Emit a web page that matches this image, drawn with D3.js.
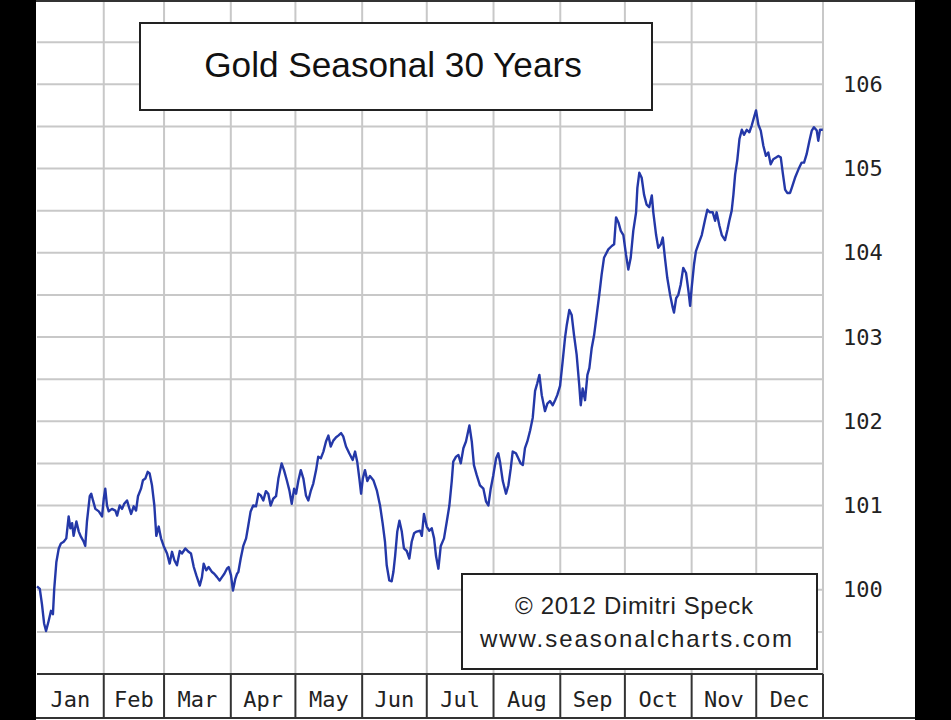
<!DOCTYPE html>
<html>
<head>
<meta charset="utf-8">
<style type="text/css">
  body { margin: 0; background: #000; }
  .grid line { stroke: #c8c8c8; stroke-width: 2px; }
  .months text { font-family: "DejaVu Sans Mono", monospace; font-size: 22px; fill: #222; }
  .yaxis text { font-family: "DejaVu Sans Mono", monospace; font-size: 22px; fill: #222; }
</style>
<script src="https://cdn.jsdelivr.net/npm/d3@7/dist/d3.min.js"></script>
</head>
<body>
<svg id="chart" width="951" height="720"></svg>
<script>
  // DATA
  var months = ["Jan", "Feb", "Mar", "Apr", "May", "Jun", "Jul", "Aug", "Sep", "Oct", "Nov", "Dec"];
  var monthDays = [31, 28, 31, 30, 31, 30, 31, 31, 30, 31, 30, 31];
  var yTicks = [100, 101, 102, 103, 104, 105, 106];

  // day of year
  var days = [
    0.0, 1.3, 2.3, 3.3, 4.2, 5.4, 6.5, 7.4, 8.0, 9.0, 10.1, 11.1, 12.4, 13.6, 14.7, 15.5, 16.3, 17.0, 18.3, 19.4,
    20.4, 21.7, 22.4, 23.2, 24.5, 25.2, 26.0, 27.1, 28.7, 30.2, 31.0, 31.7, 32.5, 33.3, 34.8, 36.4, 37.2, 38.4, 39.5, 40.5,
    41.8, 42.6, 43.7, 44.9, 46.0, 46.9, 48.3, 49.2, 50.3, 51.4, 52.3, 53.4, 54.5, 55.4, 56.5, 57.6, 58.8, 60.4, 61.6, 62.7,
    63.8, 65.0, 66.3, 67.3, 68.9, 70.4, 71.5, 72.8, 74.0, 75.6, 76.6, 77.4, 78.6, 79.7, 81.3, 82.3, 83.6, 84.8, 85.9, 87.0,
    88.2, 89.0, 90.1, 91.0, 92.1, 92.9, 93.5, 94.6, 95.8, 97.1, 98.1, 99.2, 100.4, 101.7, 102.8, 103.9, 105.1, 106.3, 107.4, 108.5,
    109.7, 111.0, 112.1, 113.6, 114.7, 116.0, 117.2, 118.3, 119.4, 120.3, 121.4, 122.5, 123.7, 124.9, 126.0, 127.1, 128.3, 129.6, 130.6, 131.8,
    133.0, 134.2, 135.3, 136.4, 137.6, 138.9, 139.9, 141.2, 142.2, 143.5, 145.0, 146.6, 147.7, 148.7, 149.7, 150.5, 151.3, 152.3, 153.4, 154.6,
    156.2, 157.8, 159.3, 160.5, 161.6, 162.4, 163.6, 164.7, 165.5, 166.3, 167.3, 168.3, 169.4, 170.4, 171.7, 172.9, 174.0, 175.1, 176.3, 177.9,
    178.7, 179.7, 181.0, 182.2, 183.3, 184.4, 185.3, 186.4, 187.5, 189.0, 190.3, 191.5, 192.6, 193.3, 194.6, 195.7, 196.8, 198.0, 199.2, 200.8,
    201.9, 202.9, 204.2, 205.7, 207.3, 208.5, 209.6, 210.7, 211.9, 213.2, 214.2, 215.0, 216.3, 217.8, 218.9, 220.0, 220.9, 222.4, 223.5, 224.6,
    225.6, 226.6, 227.7, 229.0, 230.2, 231.3, 232.3, 233.3, 234.4, 235.9, 237.0, 238.2, 239.5, 240.6, 241.6, 242.9, 244.1, 245.2, 246.0, 247.2,
    248.3, 249.4, 250.6, 251.8, 252.5, 253.4, 254.5, 255.6, 256.5, 257.6, 258.7, 259.9, 261.1, 262.2, 263.3, 265.3, 266.9, 268.0, 268.9, 270.0,
    271.1, 272.3, 273.5, 274.6, 275.7, 276.9, 278.2, 278.8, 279.7, 280.8, 281.9, 283.1, 284.3, 285.5, 286.2, 287.5, 288.5, 289.7, 290.6, 291.6,
    292.7, 294.0, 295.2, 295.8, 296.8, 297.8, 298.9, 300.1, 301.4, 302.5, 303.3, 304.0, 305.1, 306.0, 307.1, 308.7, 310.2, 311.3, 312.5, 313.8,
    314.9, 315.6, 316.9, 318.0, 319.5, 320.6, 321.5, 322.6, 323.4, 324.2, 325.2, 326.2, 327.3, 328.3, 329.6, 330.8, 331.9, 333.0, 333.9, 335.0,
    336.1, 337.3, 338.5, 339.6, 340.7, 341.9, 343.2, 344.3, 345.4, 346.3, 347.4, 348.4, 349.7, 350.5, 352.0, 353.6, 355.1, 356.2, 357.4, 358.7,
    359.8, 360.8, 362.1, 362.8, 363.6, 364.9
  ];

  // seasonal index value
  var values = [
    100.04, 100.01, 99.83, 99.60, 99.51, 99.63, 99.75, 99.71, 100.01, 100.33, 100.49, 100.55, 100.57, 100.61, 100.87, 100.73, 100.79, 100.64, 100.81, 100.69,
    100.63, 100.57, 100.52, 100.81, 101.11, 101.14, 101.06, 100.96, 100.93, 100.87, 101.08, 101.20, 101.00, 100.93, 100.96, 100.94, 100.88, 101.00, 100.96, 101.02,
    101.06, 100.99, 100.90, 100.99, 100.94, 101.11, 101.20, 101.30, 101.32, 101.40, 101.38, 101.24, 101.00, 100.64, 100.75, 100.61, 100.52, 100.43, 100.31, 100.45,
    100.35, 100.29, 100.46, 100.43, 100.49, 100.45, 100.43, 100.27, 100.17, 100.05, 100.15, 100.31, 100.23, 100.27, 100.21, 100.19, 100.15, 100.11, 100.15, 100.19,
    100.25, 100.27, 100.17, 99.99, 100.13, 100.19, 100.21, 100.37, 100.52, 100.61, 100.76, 100.93, 101.00, 100.99, 101.14, 101.12, 101.06, 101.17, 101.14, 101.00,
    101.08, 101.11, 101.32, 101.50, 101.42, 101.30, 101.18, 101.02, 101.20, 101.14, 101.30, 101.42, 101.32, 101.12, 101.06, 101.17, 101.26, 101.42, 101.58, 101.56,
    101.64, 101.76, 101.83, 101.70, 101.77, 101.81, 101.83, 101.86, 101.82, 101.70, 101.62, 101.54, 101.64, 101.52, 101.32, 101.14, 101.32, 101.42, 101.29, 101.35,
    101.30, 101.18, 101.00, 100.79, 100.57, 100.29, 100.11, 100.10, 100.21, 100.40, 100.69, 100.82, 100.69, 100.49, 100.46, 100.37, 100.57, 100.67, 100.69, 100.70,
    100.64, 100.90, 100.75, 100.70, 100.73, 100.61, 100.40, 100.25, 100.52, 100.61, 100.81, 101.00, 101.29, 101.52, 101.58, 101.60, 101.50, 101.68, 101.76, 101.95,
    101.76, 101.48, 101.36, 101.24, 101.20, 101.05, 101.00, 101.20, 101.36, 101.56, 101.62, 101.52, 101.29, 101.14, 101.24, 101.44, 101.64, 101.62, 101.56, 101.50,
    101.48, 101.68, 101.76, 101.89, 102.04, 102.36, 102.45, 102.55, 102.31, 102.12, 102.21, 102.24, 102.19, 102.25, 102.31, 102.42, 102.71, 102.99, 103.14, 103.32,
    103.26, 103.02, 102.79, 102.43, 102.19, 102.39, 102.25, 102.55, 102.63, 102.87, 103.02, 103.26, 103.50, 103.74, 103.94, 104.04, 104.08, 104.10, 104.42, 104.36,
    104.26, 104.21, 103.98, 103.80, 103.94, 104.26, 104.48, 104.77, 104.95, 104.89, 104.69, 104.57, 104.54, 104.68, 104.48, 104.21, 104.06, 104.10, 104.18, 103.94,
    103.70, 103.50, 103.35, 103.29, 103.46, 103.50, 103.62, 103.82, 103.76, 103.55, 103.37, 103.58, 103.86, 104.02, 104.10, 104.21, 104.39, 104.51, 104.48, 104.48,
    104.38, 104.48, 104.32, 104.21, 104.15, 104.27, 104.38, 104.50, 104.69, 104.93, 105.10, 105.35, 105.46, 105.40, 105.46, 105.43, 105.51, 105.61, 105.69, 105.52,
    105.45, 105.27, 105.15, 105.19, 105.05, 105.11, 105.13, 105.15, 105.13, 104.95, 104.75, 104.71, 104.71, 104.77, 104.89, 104.99, 105.07, 105.07, 105.17, 105.33,
    105.45, 105.49, 105.45, 105.33, 105.46, 105.46
  ];

  var title = "Gold Seasonal 30 Years";
  var credit1 = "\u00A9 2012  Dimitri Speck";
  var credit2 = "www.seasonalcharts.com";

  // LAYOUT
  var svg = d3.select("#chart");
  var plotLeft = 37, plotRight = 823, plotTop = 0, plotBottom = 674, barBottom = 718;

  var x = d3.scaleLinear().domain([0, 365]).range([plotLeft, plotRight]);
  var y = d3.scaleLinear().domain([99, 107]).range([plotBottom, plotTop]);

  // month boundaries as cumulative days
  var bounds = [0];
  monthDays.forEach(function(d, i) { bounds.push(bounds[i] + d); });

  // white page between the black side bars
  svg.append("rect")
    .attr("x", 36).attr("y", 0)
    .attr("width", 879).attr("height", 720)
    .attr("fill", "#fff");

  // grid
  var grid = svg.append("g").attr("class", "grid");
  var halfSteps = d3.range(99.5, 107, 0.5);
  grid.selectAll(".h")
    .data(halfSteps)
    .enter().append("line")
    .attr("x1", plotLeft).attr("x2", plotRight)
    .attr("y1", function(d) { return y(d); })
    .attr("y2", function(d) { return y(d); });

  grid.selectAll(".v")
    .data(bounds.slice(1))
    .enter().append("line")
    .attr("x1", function(d) { return x(d); })
    .attr("x2", function(d) { return x(d); })
    .attr("y1", plotTop).attr("y2", plotBottom);

  // top border
  svg.append("line")
    .attr("x1", 36).attr("x2", 915)
    .attr("y1", 1).attr("y2", 1)
    .attr("stroke", "#333").attr("stroke-width", 2);

  // the seasonal line
  var points = days.map(function(d, i) { return [d, values[i]]; });
  var line = d3.line()
    .x(function(d) { return x(d[0]); })
    .y(function(d) { return y(d[1]); });

  svg.append("path")
    .datum(points)
    .attr("d", line)
    .attr("fill", "none")
    .attr("stroke", "#2438a8")
    .attr("stroke-width", 2.4)
    .attr("stroke-linejoin", "round");

  // right hand value axis
  var yAxis = d3.axisRight(y)
    .tickValues(yTicks)
    .tickSize(0)
    .tickPadding(0)
    .tickFormat(d3.format("d"));

  var ya = svg.append("g")
    .attr("class", "yaxis")
    .attr("transform", "translate(843,0)")
    .call(yAxis);
  ya.select(".domain").remove();
  ya.selectAll("text").attr("font-family", null).attr("font-size", null);

  // month bar
  var mb = svg.append("g").attr("class", "months");
  mb.append("line")
    .attr("x1", plotLeft).attr("x2", plotRight)
    .attr("y1", plotBottom).attr("y2", plotBottom)
    .attr("stroke", "#333").attr("stroke-width", 2);
  mb.append("line")
    .attr("x1", 36).attr("x2", 915)
    .attr("y1", barBottom).attr("y2", barBottom)
    .attr("stroke", "#333").attr("stroke-width", 2);
  mb.selectAll(".div")
    .data(bounds.slice(1))
    .enter().append("line")
    .attr("x1", function(d) { return x(d); })
    .attr("x2", function(d) { return x(d); })
    .attr("y1", plotBottom).attr("y2", barBottom)
    .attr("stroke", "#333").attr("stroke-width", 2);
  mb.selectAll("text")
    .data(months)
    .enter().append("text")
    .attr("x", function(d, i) { return (x(bounds[i]) + x(bounds[i + 1])) / 2; })
    .attr("y", 707)
    .attr("text-anchor", "middle")
    .text(function(d) { return d; });

  // title box
  svg.append("rect")
    .attr("x", 140).attr("y", 23)
    .attr("width", 512).attr("height", 87)
    .attr("fill", "#fff")
    .attr("stroke", "#222").attr("stroke-width", 2);
  svg.append("text")
    .attr("x", 393).attr("y", 77)
    .attr("text-anchor", "middle")
    .style("font-family", "'Liberation Sans', Arial, sans-serif")
    .style("font-size", "35.2px")
    .style("fill", "#111")
    .text(title);

  // credit box
  svg.append("rect")
    .attr("x", 462).attr("y", 574)
    .attr("width", 355).attr("height", 95)
    .attr("fill", "#fff")
    .attr("stroke", "#222").attr("stroke-width", 2);
  var credits = svg.append("g")
    .style("font-family", "'Liberation Sans', Arial, sans-serif")
    .style("font-size", "24px")
    .style("fill", "#222");
  credits.append("text").attr("x", 515).attr("y", 614)
    .attr("textLength", 238).attr("lengthAdjust", "spacing")
    .text(credit1);
  credits.append("text").attr("x", 480).attr("y", 647)
    .attr("textLength", 312).attr("lengthAdjust", "spacing")
    .text(credit2);
</script>
</body>
</html>
